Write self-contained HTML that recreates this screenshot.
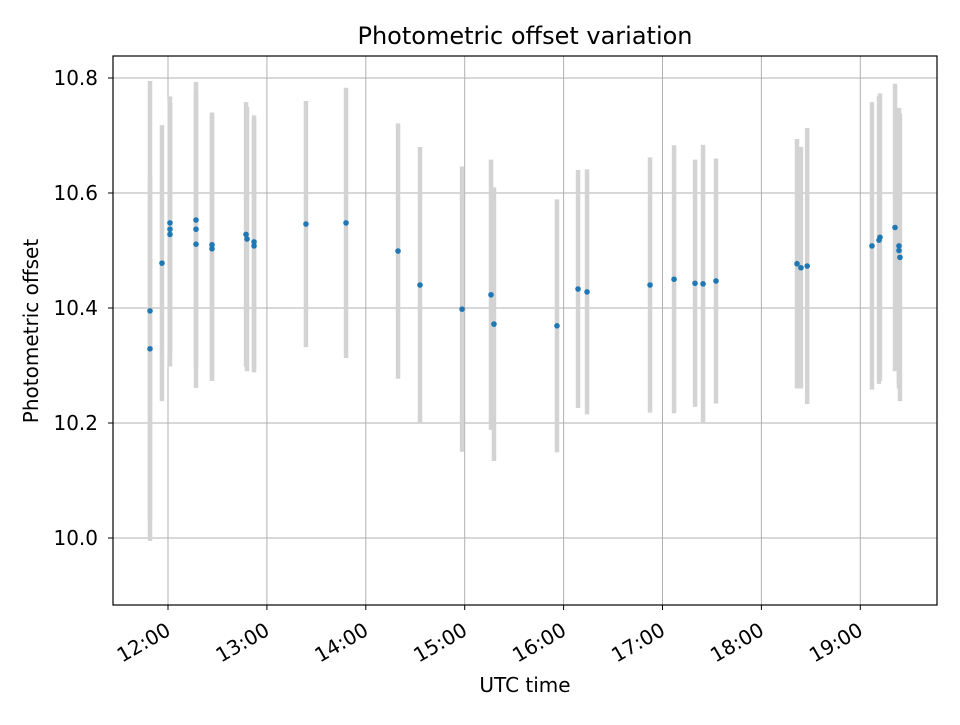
<!DOCTYPE html>
<html><head><meta charset="utf-8"><style>
body{margin:0;background:#fff;}
svg text{font-family:"DejaVu Sans","Liberation Sans",sans-serif;fill:#000;}
</style></head><body>
<svg id="chart" width="960" height="720" viewBox="0 0 960 720" xmlns="http://www.w3.org/2000/svg">
<rect x="0" y="0" width="960" height="720" fill="#fff"/>
<g id="grid"></g><g id="bars"></g><g id="pts"></g><g id="axes"></g>
<text x="525" y="44" font-size="24" text-anchor="middle">Photometric offset variation</text>
<text x="525" y="692" font-size="20" text-anchor="middle">UTC time</text>
<text transform="translate(38,331) rotate(-90)" font-size="20" text-anchor="middle">Photometric offset</text>
</svg>
<script>
const times=[11.818,11.818,11.939,12.020,12.020,12.020,12.283,12.283,12.283,12.445,12.445,12.789,12.799,12.870,12.870,13.395,13.800,14.326,14.548,14.973,15.266,15.296,15.933,16.146,16.237,16.874,17.117,17.329,17.410,17.541,18.360,18.400,18.463,19.118,19.189,19.199,19.351,19.391,19.391,19.401];
const values=[10.395,10.329,10.478,10.548,10.537,10.528,10.553,10.537,10.511,10.510,10.503,10.528,10.520,10.515,10.508,10.546,10.548,10.499,10.440,10.398,10.423,10.372,10.369,10.433,10.428,10.440,10.450,10.443,10.442,10.447,10.477,10.470,10.473,10.508,10.518,10.523,10.540,10.508,10.500,10.488];
const errs=[0.40,0.30,0.24,0.22,0.22,0.23,0.24,0.24,0.25,0.23,0.23,0.23,0.23,0.22,0.22,0.214,0.235,0.222,0.24,0.248,0.235,0.238,0.22,0.207,0.213,0.222,0.233,0.215,0.242,0.213,0.217,0.21,0.24,0.25,0.25,0.25,0.25,0.24,0.24,0.25];
const yTicks=[10.0,10.2,10.4,10.6,10.8];
const yTickLabels=["10.0","10.2","10.4","10.6","10.8"];
const xTicks=[12,13,14,15,16,17,18,19];
const xTickLabels=["12:00","13:00","14:00","15:00","16:00","17:00","18:00","19:00"];
const L=113,R=937,T=56,B=605;
const X=h=>168+(h-12)*98.9;
const Y=v=>78+(10.8-v)*575;
const NS="http://www.w3.org/2000/svg";
function mk(tag,attrs,parent){const e=document.createElementNS(NS,tag);for(const k in attrs)e.setAttribute(k,attrs[k]);document.getElementById(parent).appendChild(e);return e;}
xTicks.forEach((t,i)=>{
 const g=mk('line',{x1:X(t),x2:X(t),y1:T,y2:B,stroke:'#b0b0b0','stroke-width':1},'grid');
 
 
 const tk=mk('line',{x1:X(t),x2:X(t),y1:B,y2:B+5,stroke:'#000'},'axes');
 
 
 const ax=X(t)+4, ay=B+29;
 const tx=mk('text',{x:ax,y:ay,'font-size':20,'text-anchor':'end',transform:`rotate(-30 ${ax} ${ay})`},'axes');
 tx.textContent=xTickLabels[i];
 
 
});
yTicks.forEach((v,i)=>{
 const g=mk('line',{x1:L,x2:R,y1:Y(v),y2:Y(v),stroke:'#b0b0b0','stroke-width':1},'grid');
 
 
 const tk=mk('line',{x1:L-5,x2:L,y1:Y(v),y2:Y(v),stroke:'#000'},'axes');
 
 
 const tx=mk('text',{x:L-15,y:Y(v)+7,'font-size':20,'text-anchor':'end'},'axes');
 tx.textContent=yTickLabels[i];
 
 
});
const fr=mk('rect',{x:L,y:T,width:R-L,height:B-T,fill:'none',stroke:'#000','stroke-width':1.2},'axes');


times.forEach((t,i)=>{
 const b=mk('line',{x1:X(t),x2:X(t),y1:Y(values[i]+errs[i]),y2:Y(values[i]-errs[i]),stroke:'#d3d3d3','stroke-width':4.5},'bars');
 
 
});
times.forEach((t,i)=>{
 const p=mk('circle',{cx:X(t),cy:Y(values[i]),r:2.8,fill:'#1f77b4'},'pts');
 
 
});
</script>
</body></html>
